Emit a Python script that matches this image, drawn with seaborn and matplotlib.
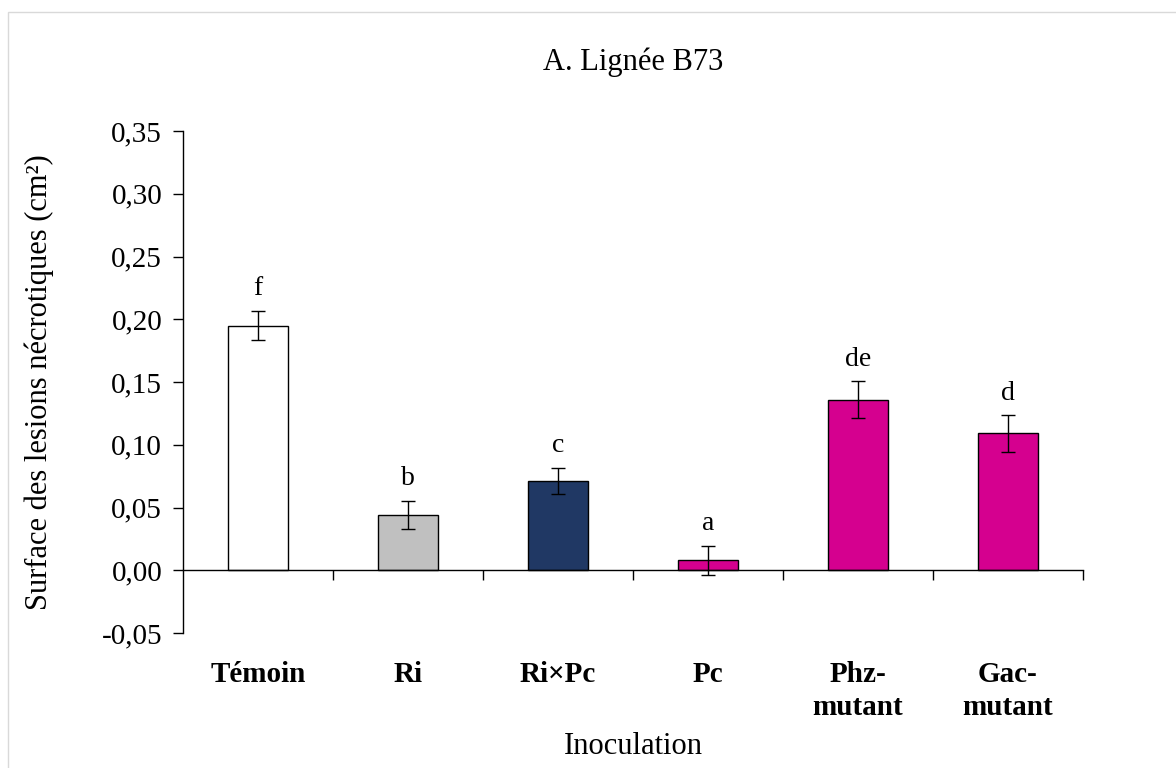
import matplotlib
matplotlib.use("Agg")
import matplotlib.pyplot as plt
import seaborn as sns
import pandas as pd
from matplotlib.patches import Rectangle

# ---- data ----
categories = ["Témoin", "Ri", "Ri×Pc", "Pc", "Phz-\nmutant", "Gac-\nmutant"]
values = [0.195, 0.044, 0.071, 0.008, 0.136, 0.109]
errors = [0.0115, 0.0115, 0.0105, 0.0115, 0.0145, 0.0145]
letters = ["f", "b", "c", "a", "de", "d"]
colors = ["#FFFFFF", "#C0C0C0", "#203864", "#D5008F", "#D5008F", "#D5008F"]
ytick_values = [-0.05, 0.0, 0.05, 0.10, 0.15, 0.20, 0.25, 0.30, 0.35]
ytick_labels = ["-0,05", "0,00", "0,05", "0,10", "0,15", "0,20", "0,25", "0,30", "0,35"]
title = "A. Lignée B73"
xlabel = "Inoculation"
ylabel = "Surface des lesions nécrotiques (cm²)"

sns.set_theme(style="white")
plt.rcParams["font.family"] = ["Liberation Serif", "DejaVu Serif"]
plt.rcParams["text.color"] = "black"
plt.rcParams["axes.labelcolor"] = "black"
plt.rcParams["xtick.color"] = "black"
plt.rcParams["ytick.color"] = "black"

df = pd.DataFrame({"cat": categories, "val": values})

fig = plt.figure(figsize=(11.76, 7.68), dpi=100)
ax = fig.add_axes([183/1176, 1 - 633/768, 900/1176, 502/768])

sns.barplot(data=df, x="cat", y="val", hue="cat", palette=dict(zip(categories, colors)),
            order=categories, width=0.4, edgecolor="black", linewidth=1.0,
            saturation=1, errorbar=None, legend=False, ax=ax)

xs = list(range(len(categories)))
ax.errorbar(xs, values, yerr=errors, fmt="none", ecolor="black", elinewidth=1.0,
            capsize=5, capthick=1.0, zorder=5)

for x, v, e, t in zip(xs, values, errors, letters):
    ax.annotate(t, (x, v + e), xytext=(0, 7), textcoords="offset points",
                ha="center", va="bottom", fontsize=20, color="black")

ax.set_xlim(-0.5, len(categories) - 0.5)
ax.set_ylim(-0.05, 0.35)
ax.set_yticks(ytick_values)
ax.set_yticklabels(ytick_labels, fontsize=21)
ax.tick_params(axis="y", direction="out", length=7, width=1, color="black", left=True, pad=8)

# bottom spine at zero, with boundary ticks
ax.spines["bottom"].set_position(("data", 0))
ax.spines["top"].set_visible(False)
ax.spines["right"].set_visible(False)
for s in ["left", "bottom"]:
    ax.spines[s].set_color("black")
    ax.spines[s].set_linewidth(1.0)
ax.set_xticks([i + 0.5 for i in xs], minor=False)
ax.set_xticklabels([])
ax.tick_params(axis="x", which="major", direction="out", length=7, width=1, color="black", bottom=True)
ax.set_xlabel("")
ax.set_ylabel(ylabel, fontsize=22, labelpad=34)

# category labels at the bottom of the axes
sec = ax.secondary_xaxis("bottom")
sec.set_xticks(xs)
sec.set_xticklabels(categories, fontsize=21, fontweight="bold", linespacing=1.3)
sec.tick_params(length=0, pad=20)
sec.spines["bottom"].set_visible(False)
sec.set_xlabel(xlabel, fontsize=22, labelpad=8)

ax.set_title(title, fontsize=22, pad=44)

# chart border
fig.patches.append(Rectangle((8/1176, -0.1), 1.2, 1 - 12/768 + 0.1, transform=fig.transFigure,
                             fill=False, edgecolor="#D9D9D9", linewidth=1.0))

fig.savefig("out.png", dpi=100, facecolor="white")
